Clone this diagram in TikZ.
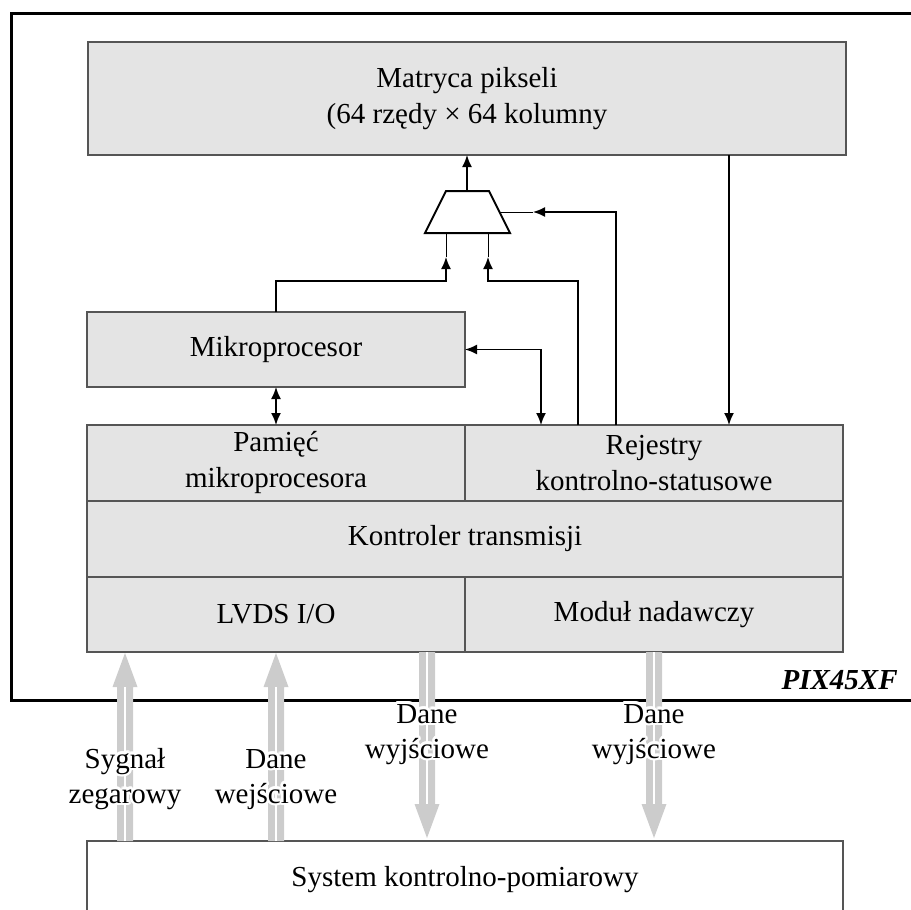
\documentclass[tikz,border=0pt]{standalone}
\usepackage{fontspec}
\setmainfont{Liberation Serif}
\usepackage{contour}
\contourlength{1.3pt}
\usetikzlibrary{arrows.meta,calc}

\definecolor{boxfill}{HTML}{E4E4E4}
\definecolor{boxline}{HTML}{555555}
\definecolor{fatgray}{HTML}{CCCCCC}

\newcommand\diagfont{\fontsize{14.5}{18}\selectfont}
\newcommand\halo[1]{\contour{white}{#1}}

% wide grey data arrow: #1 start, #2 tip, #3 = +1 (pointing up) or -1 (pointing down)
\newcommand\fatarrow[3]{%
  \fill[fatgray] ($(#1)+(-8,0)$) -- ($(#2)+(-8,#3*34)$) -- ($(#2)+(-12.5,#3*34)$)
    -- (#2) -- ($(#2)+(12.5,#3*34)$) -- ($(#2)+(8,#3*34)$) -- ($(#1)+(8,0)$) -- cycle;
  \draw[white, line width=1pt] (#1) -- ($(#2)+(0,#3*34)$);}

\tikzset{
  block/.style={draw=boxline, fill=boxfill, line width=0.6pt, inner sep=0pt,
    outer sep=0pt, align=center, font=\diagfont},
  conn/.style={line width=0.8pt, -{Latex[length=6pt,width=5pt]}},
  bothconn/.style={line width=0.8pt, {Latex[length=6pt,width=5pt]}-{Latex[length=6pt,width=5pt]}},
  feed/.style={line width=0.5pt},
  chipframe/.style={line width=1.5pt},
  flowlabel/.style={anchor=base, font=\diagfont, inner sep=0pt},
}

\begin{document}
\begin{tikzpicture}[x=0.5pt,y=-0.5pt]
\useasboundingbox (0,0) rectangle (911,910);

% chip outline (open to the right)
\draw[chipframe] (911,13) -- (11,13) -- (11,700) -- (911,700);
\node[anchor=base east, font=\diagfont\bfseries\itshape, inner sep=0pt] (chip) at (898,689) {PIX45XF};

% functional blocks
\node[block, minimum width=379pt, minimum height=56.5pt] (pix) at (467,98.5)
  {Matryca pikseli\\(64 rzędy × 64 kolumny};
\node[block, minimum width=189pt, minimum height=37.5pt] (cpu) at (276,349.5) {Mikroprocesor};
\node[block, minimum width=189pt, minimum height=38pt] (mem) at (276,463) {Pamięć\\mikroprocesora};
\node[block, minimum width=189pt, minimum height=38pt] (regs) at (654,463) {Rejestry\\kontrolno-statusowe};
\node[block, minimum width=378pt, minimum height=38pt] (ctrl) at (465,539) {Kontroler transmisji};
\node[block, minimum width=189pt, minimum height=37.5pt] (lvds) at (276,614.5) {LVDS I/O};
\node[block, minimum width=189pt, minimum height=37.5pt] (tx) at (654,614.5) {Moduł nadawczy};

% external test system (open at the bottom)
\node[minimum width=378pt, minimum height=34.5pt, inner sep=0pt, outer sep=0pt] (sys) at (465,875.5) {};
\draw[boxline, line width=0.6pt] (sys.south west) |- (sys.north east) -- (sys.south east);
\node[font=\diagfont, inner sep=0pt] (systxt) at (465,880) {System kontrolno-pomiarowy};

% multiplexer
\coordinate (mtl) at (446,191);
\coordinate (mtr) at (489,191);
\coordinate (mbr) at (510,233);
\coordinate (mbl) at (425,233);
\draw[line width=1pt] (mtl) -- (mtr) -- (mbr) -- (mbl) -- cycle;
\coordinate (muxout) at (467,191);
\draw[conn] (muxout) -- (muxout |- pix.south);

% multiplexer inputs
\coordinate (inA) at (446,233);
\coordinate (tipA) at (446,257);
\coordinate (bendA) at (446,281);
\coordinate (inB) at (488,233);
\coordinate (tipB) at (488,257);
\coordinate (bendB) at (488,281);
\coordinate (inC) at (499.5,212);
\coordinate (tipC) at (533,212);
\coordinate (regA) at (578,425);
\coordinate (regB) at (616,425);
\coordinate (regC) at (729,425);
\coordinate (regD) at (541,425);

\draw[conn] (cpu.north) |- (bendA) -- (tipA);
\draw[feed] (tipA) -- (inA);
\draw[conn] (regA) |- (bendB) -- (tipB);
\draw[feed] (tipB) -- (inB);
\draw[conn] (regB) |- (tipC);
\draw[feed] (tipC) -- (inC);

% other internal links
\draw[conn] (pix.south -| regC) -- (regC);
\draw[bothconn] (cpu.east) -| (regD);
\draw[bothconn] (cpu.south) -- (mem.north);

% external data paths
\coordinate (a1s) at (125,841);
\coordinate (a1t) at (125,653);
\coordinate (a2s) at (276,841);
\coordinate (a2t) at (276,653);
\coordinate (a3s) at (427,652);
\coordinate (a3t) at (427,838);
\coordinate (a4s) at (654,652);
\coordinate (a4t) at (654,838);
\fatarrow{a1s}{a1t}{1}
\fatarrow{a2s}{a2t}{1}
\fatarrow{a3s}{a3t}{-1}
\fatarrow{a4s}{a4t}{-1}

% path labels with a white halo
\node[flowlabel] (l1a) at (125,768) {\halo{Sygnał}};
\node[flowlabel] (l1b) at (125,803) {\halo{zegarowy}};
\node[flowlabel] (l2a) at (276,768) {\halo{Dane}};
\node[flowlabel] (l2b) at (276,803) {\halo{wejściowe}};
\node[flowlabel] (l3a) at (427,723) {\halo{Dane}};
\node[flowlabel] (l3b) at (427,758) {\halo{wyjściowe}};
\node[flowlabel] (l4a) at (654,723) {\halo{Dane}};
\node[flowlabel] (l4b) at (654,758) {\halo{wyjściowe}};
\end{tikzpicture}
\end{document}
